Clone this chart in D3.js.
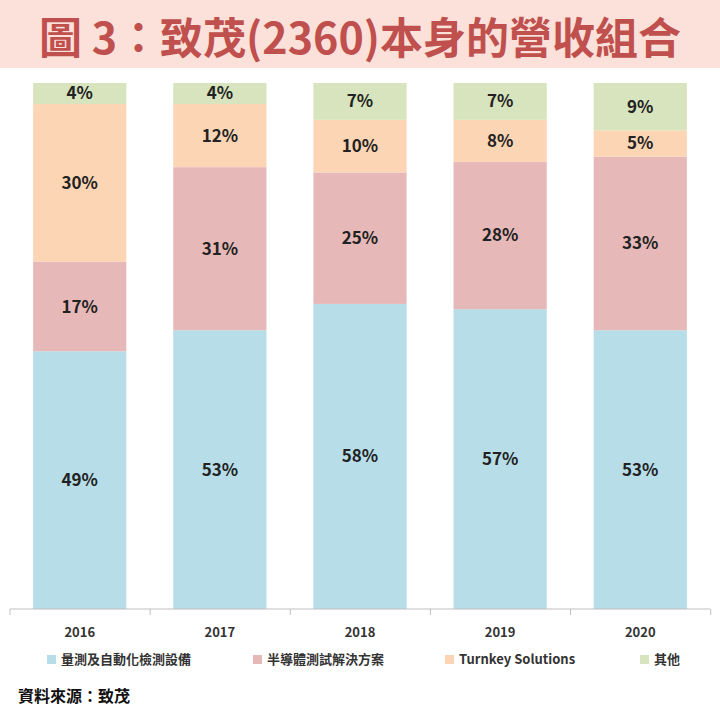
<!DOCTYPE html>
<html><head><meta charset="utf-8">
<script src="https://cdn.jsdelivr.net/npm/d3@7"></script>
<style>body{margin:0;background:#fff}svg{display:block;font-family:"Noto Sans CJK TC","Noto Sans",sans-serif}</style>
</head><body>
<svg id="chart" width="720" height="720"></svg>
<script>
// Revenue mix by year (%), bottom to top
const years = ['2016', '2017', '2018', '2019', '2020'];
const seriesNames = ['量測及自動化檢測設備', '半導體測試解決方案', 'Turnkey Solutions', '其他'];
const measurement = [49, 53, 58, 57, 53];
const semiconductor = [17, 31, 25, 28, 33];
const turnkey = [30, 12, 10, 8, 5];
const others = [4, 4, 7, 7, 9];
const colors = ['#b7dde8', '#e6b9b8', '#fcd5b5', '#d7e4bd'];

const svg = d3.select('#chart');

// Title band
svg.append('rect').attr('x', 0).attr('y', 0).attr('width', 720).attr('height', 68).attr('fill', '#fbe1da');
svg.append('text').attr('x', 360).attr('y', 54).attr('text-anchor', 'middle')
    .attr('font-size', '43px').attr('font-weight', 700).attr('fill', '#c0504d')
    .text('圖 3：致茂(2360)本身的營收組合');

const x = d3.scaleBand().domain(years).range([10, 710]).paddingInner(0.335).paddingOuter(0.165);
const y = d3.scaleLinear().domain([0, 100]).range([609, 83]);

const rows = years.map((yr, i) => ({ year: yr, s0: measurement[i], s1: semiconductor[i], s2: turnkey[i], s3: others[i] }));
const stacked = d3.stack().keys(['s0', 's1', 's2', 's3'])(rows);

const layers = svg.selectAll('.layer').data(stacked).enter().append('g')
    .attr('fill', (d, i) => colors[i]);

layers.selectAll('rect').data(d => d).enter().append('rect')
    .attr('x', d => x(d.data.year))
    .attr('y', d => y(d[1]))
    .attr('width', x.bandwidth())
    .attr('height', d => y(d[0]) - y(d[1]));

layers.selectAll('text').data(d => d).enter().append('text')
    .attr('x', d => x(d.data.year) + x.bandwidth() / 2)
    .attr('y', d => (y(d[0]) + y(d[1])) / 2)
    .attr('dy', '0.35em')
    .attr('text-anchor', 'middle')
    .attr('font-size', '17px').attr('font-weight', 700).attr('fill', '#222')
    .text(d => Math.round(d[1] - d[0]) + '%');

// x axis line with ticks between categories
svg.append('line').attr('x1', 10).attr('x2', 710).attr('y1', 609).attr('y2', 609).attr('stroke', '#bfbfbf');
const step = x.step();
d3.range(6).forEach(i => {
    const tx = 10 + i * step;
    svg.append('line').attr('x1', tx).attr('x2', tx).attr('y1', 609).attr('y2', 615).attr('stroke', '#bfbfbf');
});
svg.selectAll('.yr').data(years).enter().append('text')
    .attr('x', d => x(d) + x.bandwidth() / 2).attr('y', 637)
    .attr('text-anchor', 'middle').attr('font-size', '13px').attr('font-weight', 700).attr('fill', '#333')
    .text(d => d);

// legend
const legendX = [47, 253, 445, 640];
seriesNames.forEach((n, i) => {
    svg.append('rect').attr('x', legendX[i]).attr('y', 655).attr('width', 9).attr('height', 9).attr('fill', colors[i]);
    svg.append('text').attr('x', legendX[i] + 14).attr('y', 664)
        .attr('font-size', '13px').attr('font-weight', 700).attr('fill', '#333').text(n);
});

svg.append('text').attr('x', 18).attr('y', 702).attr('font-size', '16px').attr('font-weight', 700)
    .attr('fill', '#111').text('資料來源：致茂');
</script>
</body></html>
